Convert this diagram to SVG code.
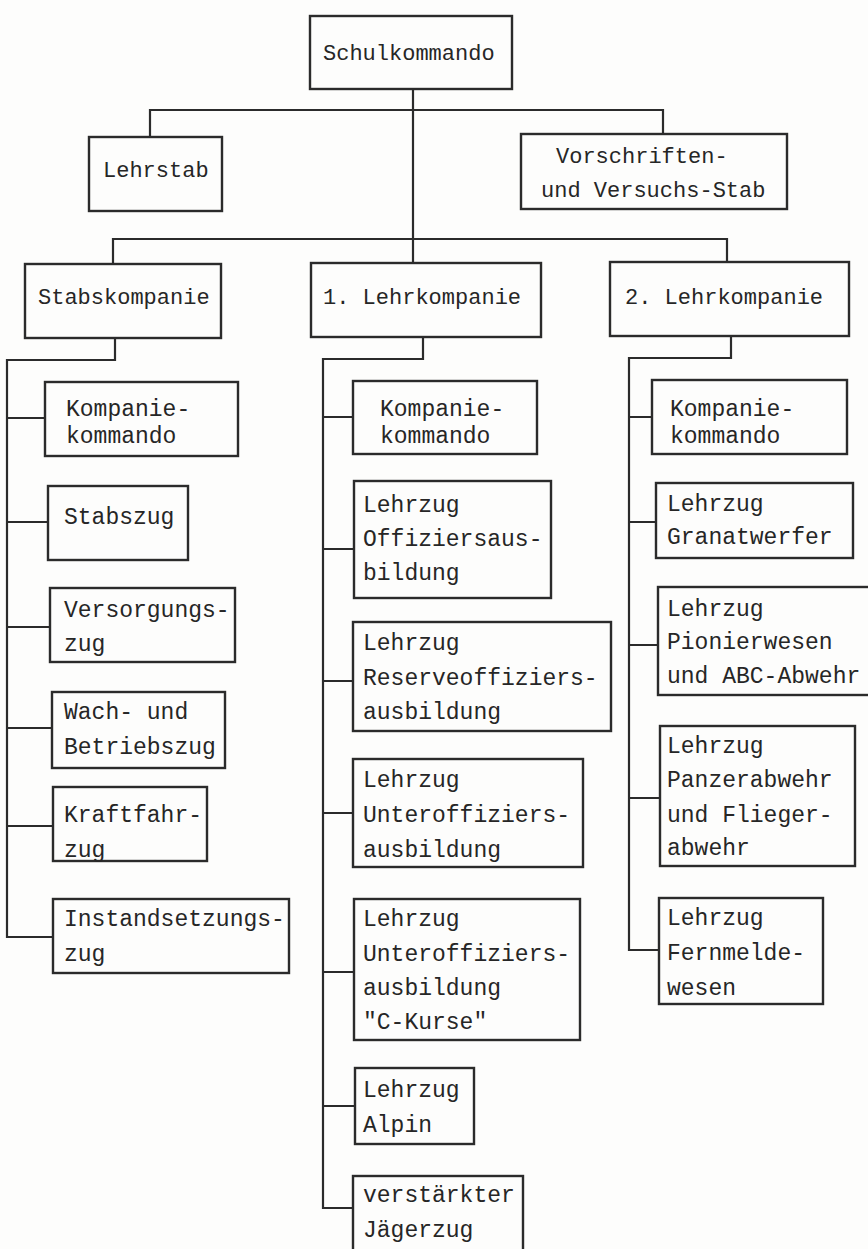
<svg xmlns="http://www.w3.org/2000/svg" width="868" height="1249" viewBox="0 0 868 1249">
<style>
.b{fill:none;stroke:#2b2b2b;stroke-width:2.4}
.c{fill:none;stroke:#2b2b2b;stroke-width:2.2}
text{font-family:"Liberation Mono","DejaVu Sans Mono",monospace;font-size:23px;fill:#262626}
.t{font-size:22px}
</style>
<rect x="0" y="0" width="868" height="1249" fill="#fdfdfc"/>
<g id="connectors">
<path class="c" d="M413 89V263M150 137V110H663V134M113 264V239H727V262"/>
<path class="c" d="M115 338V360H7V937H53M7 418H45M7 522H48M7 627H50M7 728H52M7 826H53"/>
<path class="c" d="M423 337V359H323V1208H353M323 417H353M323 549H354M323 681H353M323 813H353M323 972H354M323 1106H355"/>
<path class="c" d="M731 336V358H629V950H659M629 417H652M629 522H656M629 645H658M629 798H660"/>
</g>
<g id="n_schulkommando"><rect class="b" x="310" y="16" width="202" height="73"/><text class="t" x="323" y="60">Schulkommando</text></g>
<g id="n_lehrstab"><rect class="b" x="89" y="137" width="133" height="74"/><text class="t" x="103" y="177">Lehrstab</text></g>
<g id="n_vorschriften"><rect class="b" x="521" y="134" width="266" height="75"/><text class="t" x="556" y="163">Vorschriften-</text><text class="t" x="541" y="197">und Versuchs-Stab</text></g>
<g id="n_stabskompanie"><rect class="b" x="25" y="264" width="196" height="74"/><text class="t" x="38" y="304">Stabskompanie</text></g>
<g id="n_lehrkompanie1"><rect class="b" x="311" y="263" width="230" height="74"/><text class="t" x="323" y="304">1. Lehrkompanie</text></g>
<g id="n_lehrkompanie2"><rect class="b" x="610" y="262" width="239" height="74"/><text class="t" x="625" y="304">2. Lehrkompanie</text></g>
<g id="n_s_kompaniekommando"><rect class="b" x="45" y="382" width="193" height="74"/><text x="66" y="416">Kompanie-</text><text x="66" y="443">kommando</text></g>
<g id="n_stabszug"><rect class="b" x="48" y="486" width="140" height="74"/><text x="64" y="524">Stabszug</text></g>
<g id="n_versorgungszug"><rect class="b" x="50" y="588" width="185" height="74"/><text x="64" y="617">Versorgungs-</text><text x="64" y="651">zug</text></g>
<g id="n_wachzug"><rect class="b" x="52" y="692" width="173" height="76"/><text x="64" y="719">Wach- und</text><text x="64" y="754">Betriebszug</text></g>
<g id="n_kraftfahrzug"><rect class="b" x="53" y="787" width="154" height="74"/><text x="64" y="822">Kraftfahr-</text><text x="64" y="857">zug</text></g>
<g id="n_instandsetzungszug"><rect class="b" x="53" y="899" width="236" height="74"/><text x="64" y="926">Instandsetzungs-</text><text x="64" y="961">zug</text></g>
<g id="n_1_kompaniekommando"><rect class="b" x="353" y="381" width="184" height="73"/><text x="380" y="416">Kompanie-</text><text x="380" y="443">kommando</text></g>
<g id="n_offiziersausbildung"><rect class="b" x="354" y="481" width="197" height="117"/><text x="363" y="512">Lehrzug</text><text x="363" y="546">Offiziersaus-</text><text x="363" y="580">bildung</text></g>
<g id="n_reserveoffiziers"><rect class="b" x="353" y="622" width="258" height="109"/><text x="363" y="650">Lehrzug</text><text x="363" y="685">Reserveoffiziers-</text><text x="363" y="719">ausbildung</text></g>
<g id="n_unteroffiziers"><rect class="b" x="353" y="759" width="230" height="108"/><text x="363" y="787">Lehrzug</text><text x="363" y="822">Unteroffiziers-</text><text x="363" y="857">ausbildung</text></g>
<g id="n_ckurse"><rect class="b" x="354" y="899" width="226" height="141"/><text x="363" y="926">Lehrzug</text><text x="363" y="961">Unteroffiziers-</text><text x="363" y="995">ausbildung</text><text x="363" y="1029">"C-Kurse"</text></g>
<g id="n_alpin"><rect class="b" x="355" y="1068" width="119" height="76"/><text x="363" y="1097">Lehrzug</text><text x="363" y="1132">Alpin</text></g>
<g id="n_jaegerzug"><rect class="b" x="353" y="1176" width="170" height="80"/><text x="363" y="1202">verstärkter</text><text x="363" y="1237">Jägerzug</text></g>
<g id="n_2_kompaniekommando"><rect class="b" x="652" y="380" width="195" height="74"/><text x="670" y="416">Kompanie-</text><text x="670" y="443">kommando</text></g>
<g id="n_granatwerfer"><rect class="b" x="656" y="483" width="197" height="75"/><text x="667" y="511">Lehrzug</text><text x="667" y="544">Granatwerfer</text></g>
<g id="n_pionierwesen"><rect class="b" x="658" y="587" width="220" height="108"/><text x="667" y="616">Lehrzug</text><text x="667" y="649">Pionierwesen</text><text x="667" y="683">und ABC-Abwehr</text></g>
<g id="n_panzerabwehr"><rect class="b" x="660" y="726" width="195" height="140"/><text x="667" y="753">Lehrzug</text><text x="667" y="787">Panzerabwehr</text><text x="667" y="822">und Flieger-</text><text x="667" y="855">abwehr</text></g>
<g id="n_fernmeldewesen"><rect class="b" x="659" y="898" width="164" height="106"/><text x="667" y="925">Lehrzug</text><text x="667" y="960">Fernmelde-</text><text x="667" y="995">wesen</text></g>
</svg>
